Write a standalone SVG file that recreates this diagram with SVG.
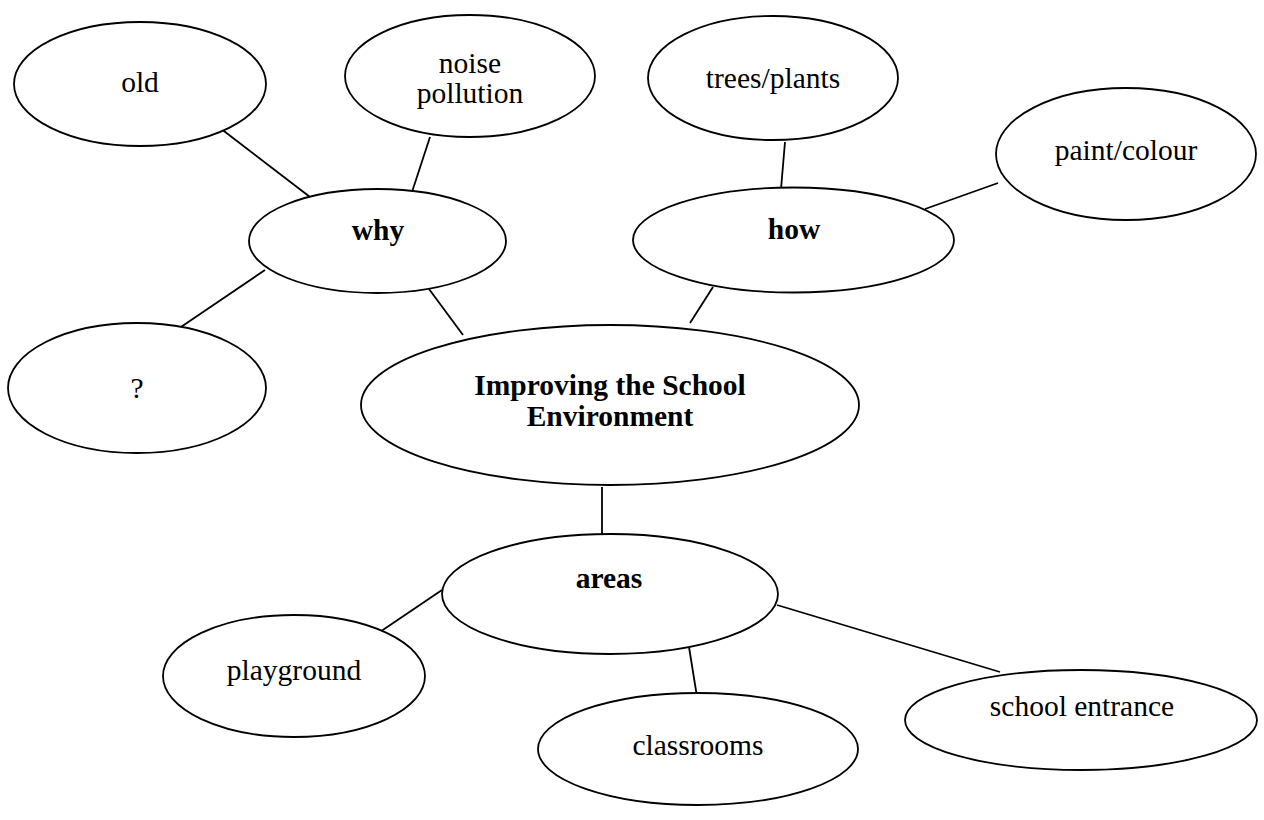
<svg xmlns="http://www.w3.org/2000/svg" width="1264" height="820" viewBox="0 0 1264 820">
<style>
.n{fill:#fff;stroke:#000;stroke-width:1.8}
.c line{stroke:#000;stroke-width:1.8}
text{font-family:"Liberation Serif","Times New Roman",serif;font-size:29.5px;fill:#000;text-anchor:middle}
.b{font-weight:bold}
</style>
<rect width="1264" height="820" fill="#fff"/>
<g class="c" id="connectors">
<line x1="220" y1="128" x2="310" y2="197"/>
<line x1="430" y1="137" x2="412" y2="192"/>
<line x1="265" y1="270" x2="178" y2="329"/>
<line x1="429" y1="289" x2="463" y2="335"/>
<line x1="785" y1="142" x2="781" y2="189"/>
<line x1="925" y1="209" x2="998" y2="183"/>
<line x1="713" y1="287" x2="690" y2="323"/>
<line x1="602" y1="487" x2="602" y2="535"/>
<line x1="442" y1="590" x2="368" y2="640"/>
<line x1="689" y1="647" x2="698" y2="703"/>
<line x1="777" y1="605" x2="1000" y2="672"/>
</g>
<g id="old"><ellipse class="n" cx="140" cy="84" rx="126" ry="62"/><text x="140" y="92">old</text></g>
<g id="noise"><ellipse class="n" cx="470" cy="76" rx="125" ry="61"/><text x="470" y="73">noise</text><text x="470" y="103">pollution</text></g>
<g id="trees"><ellipse class="n" cx="773" cy="78" rx="125" ry="62"/><text x="773" y="88">trees/plants</text></g>
<g id="paint"><ellipse class="n" cx="1126" cy="154" rx="130" ry="66"/><text x="1126" y="160">paint/colour</text></g>
<g id="why"><ellipse class="n" cx="377.5" cy="241" rx="128.5" ry="52"/><text class="b" x="378" y="240">why</text></g>
<g id="how"><ellipse class="n" cx="793.5" cy="240" rx="160.5" ry="52.5"/><text class="b" x="794" y="239">how</text></g>
<g id="q"><ellipse class="n" cx="137" cy="388" rx="129" ry="65"/><text x="137" y="398">?</text></g>
<g id="main"><ellipse class="n" cx="610" cy="405" rx="249" ry="80"/><text class="b" x="610" y="395">Improving the School</text><text class="b" x="610" y="426">Environment</text></g>
<g id="areas"><ellipse class="n" cx="610" cy="594" rx="168" ry="60"/><text class="b" x="609" y="588">areas</text></g>
<g id="playground"><ellipse class="n" cx="294" cy="676" rx="131" ry="61"/><text x="294" y="680">playground</text></g>
<g id="classrooms"><ellipse class="n" cx="698" cy="749" rx="160" ry="56"/><text x="698" y="755">classrooms</text></g>
<g id="entrance"><ellipse class="n" cx="1081" cy="720" rx="176" ry="50"/><text x="1082" y="716">school entrance</text></g>
</svg>
